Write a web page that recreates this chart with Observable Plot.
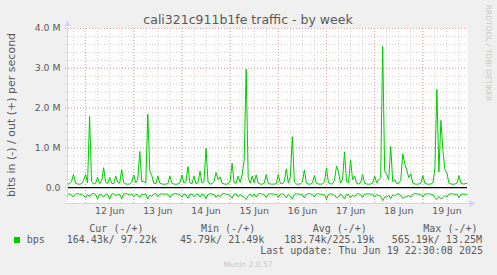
<!DOCTYPE html>
<html><head><meta charset="utf-8">
<script src="https://cdn.jsdelivr.net/npm/d3@7"></script>
<script src="https://cdn.jsdelivr.net/npm/@observablehq/plot@0.6"></script>
<style>
html,body{margin:0;padding:0;background:#f0f0f0;}
#chart{position:relative;width:497px;height:275px;background:#f0f0f0;overflow:hidden}
</style></head><body><div id="chart"></div>
<script>
// ---- data ----
const seriesStart = Date.UTC(2025, 5, 11, 15, 0); // first hourly sample
const domainStart = new Date(Date.UTC(2025, 5, 11, 15, 0));
const domainEnd = new Date(Date.UTC(2025, 5, 19, 22, 15));
// out (+) in kbit/s, hourly
const outValues = [
 90,95,150,330,110,90,85,100,180,330,
 120,1790,150,90,110,260,100,160,500,130,
 95,260,110,90,290,140,110,450,120,90,
 85,90,140,320,120,200,910,150,160,110,
 1840,420,300,110,95,290,110,90,85,90,
 95,290,110,90,85,90,120,320,110,150,
 530,120,95,290,100,120,410,110,160,990,
 140,90,95,150,380,200,270,110,90,85,
 95,170,610,120,110,290,130,320,690,2980,
 260,110,290,120,320,110,90,85,110,330,
 110,90,85,90,95,330,110,90,160,470,
 120,260,1280,140,90,85,95,140,440,110,
 90,85,120,300,110,90,85,90,150,490,
 120,95,90,180,540,400,110,200,900,150,
 120,700,200,290,110,90,120,330,110,90,
 85,90,110,290,120,200,250,3550,410,330,
 200,1030,150,200,100,110,180,850,600,440,
 250,350,110,90,85,90,110,300,110,90,
 85,90,120,470,2470,390,1690,930,450,370,
 110,90,85,90,110,300,110,90,95,110
];
// in (-) in kbit/s, hourly (magnitudes)
const inValues = [
 170,160,175,240,165,150,170,165,200,250,
 170,230,160,150,170,290,165,175,240,160,
 170,290,165,150,200,175,165,280,160,150,
 165,170,160,230,170,180,250,165,175,160,
 290,190,220,160,150,230,165,155,170,160,
 165,250,170,160,150,165,170,240,160,175,
 270,165,160,230,170,160,240,165,175,280,
 170,155,165,170,250,180,230,160,150,165,
 170,200,270,165,160,230,170,220,240,300,
 200,160,230,165,240,160,150,165,170,250,
 165,155,160,170,165,250,165,155,180,260,
 165,210,290,170,155,160,170,175,260,165,
 150,160,170,240,160,155,165,170,180,300,
 170,160,165,190,260,230,165,200,280,170,
 175,260,190,230,165,155,170,250,165,160,
 155,165,170,240,175,200,220,330,230,250,
 190,280,175,210,160,165,190,270,240,230,
 200,240,165,150,160,165,170,240,165,155,
 160,165,180,250,300,220,280,250,200,240,
 165,155,160,170,165,260,170,160,165,170
];
const dayLabels = ["12 Jun","13 Jun","14 Jun","15 Jun","16 Jun","17 Jun","18 Jun","19 Jun"];
const dayNoons = dayLabels.map((_, k) => new Date(Date.UTC(2025, 5, 12 + k, 12)));
const dayMidnights = dayLabels.map((_, k) => new Date(Date.UTC(2025, 5, 12 + k, 0)));
const yTicks = [0, 1000, 2000, 3000, 4000];
const yMajor = [1000, 2000, 3000, 4000];
const legendHeaders = ["Cur (-/+)", "Min (-/+)", "Avg (-/+)", "Max (-/+)"];
const legendValues = ["164.43k/ 97.22k", "45.79k/ 21.49k", "183.74k/225.19k", "565.19k/ 13.25M"];
const seriesName = "bps";
const titleText = "cali321c911b1fe traffic - by week";
const yLabelText = "bits in (-) / out (+) per second";
const lastUpdate = "Last update: Thu Jun 19 22:30:08 2025";
const watermark = "RRDTOOL / TOBI OETIKER";
const version = "Munin 2.0.57";

const data = outValues.map((v, i) => ({t: new Date(seriesStart + i * 3600e3), out: v, inn: inValues[i]}));

const GREEN = "#00cc00", AXIS = "#CFD6F8", FONT = "#5a5a5a";

const svg = Plot.plot({
  width: 497, height: 275,
  marginLeft: 67, marginRight: 30, marginTop: 28, marginBottom: 72,
  style: {background: "transparent", fontFamily: "DejaVu Sans", fontSize: "9.3px", color: FONT},
  x: {type: "utc", domain: [domainStart, domainEnd]},
  y: {domain: [-400, 4000]},
  marks: [
    Plot.frame({fill: "white", stroke: null}),
    Plot.gridY({interval: 200, stroke: "#cfcfcf", strokeOpacity: 1, strokeDasharray: "1,2", insetLeft: -2}),
    Plot.gridX({interval: d3.utcHour.every(6), stroke: "#cfcfcf", strokeOpacity: 1, strokeDasharray: "1,2"}),
    Plot.gridY(yMajor, {stroke: "#e8a0a0", strokeOpacity: 1, strokeDasharray: "1,2", insetLeft: -2}),
    Plot.gridX(dayMidnights, {stroke: "#e8a0a0", strokeOpacity: 1, strokeDasharray: "1,2", insetBottom: -2}),
    Plot.ruleY([0], {stroke: "black", strokeWidth: 1.3}),
    Plot.line(data, {x: "t", y: "out", stroke: GREEN, strokeWidth: 1}),
    Plot.line(data, {x: "t", y: d => -d.inn, stroke: GREEN, strokeWidth: 1}),
    Plot.ruleX([domainStart], {y1: -400, y2: 4000, stroke: AXIS, insetTop: -3}),
    Plot.ruleY([-400], {x1: domainStart, x2: domainEnd, stroke: AXIS, insetRight: -3}),
    Plot.dot([domainStart], {x: d => d, y: () => 4000, symbol: "triangle", r: 2.6, fill: AXIS, stroke: null, dy: -4}),
    Plot.dot([domainEnd], {x: d => d, y: () => -400, symbol: "triangle", r: 2.6, fill: AXIS, stroke: null, rotate: 90, dx: 4}),
    Plot.axisY(yTicks, {tickSize: 0, tickPadding: 7, label: null, fill: FONT,
      tickFormat: v => v === 0 ? "0.0" : (v / 1000).toFixed(1) + " M"}),
    Plot.axisX(dayNoons, {tickSize: 0, tickPadding: 4, label: null, fill: FONT,
      tickFormat: d => dayLabels[dayNoons.findIndex(n => +n === +d)]})
  ]
});

document.getElementById("chart").appendChild(svg);
svg.style.position = "absolute"; svg.style.left = "0"; svg.style.top = "0";

const s = d3.select(svg);
const txt = (x, y, str, o = {}) => s.append("text")
  .attr("x", x).attr("y", y).text(str)
  .attr("fill", o.fill || FONT)
  .attr("font-family", o.family || "DejaVu Sans")
  .attr("font-size", o.size || 10)
  .attr("text-anchor", o.anchor || "start")
  .attr("transform", o.transform || null)
  .style("white-space", "pre");

txt(248, 23.5, titleText, {size: 12.5, anchor: "middle"});
txt(0, 0, yLabelText, {size: 11, anchor: "middle", transform: "translate(15,115) rotate(-90)"});
txt(0, 0, watermark, {size: 7.5, anchor: "middle", fill: "#c8c8c8", transform: "translate(485.5,53) rotate(90)"});

const mono = "DejaVu Sans Mono";
const hx = [89.3, 201, 312.7, 423.3];
const vx = [66.7, 180, 284.3, 391.7];
legendHeaders.forEach((h, k) => txt(hx[k], 231.5, h, {family: mono}));
s.append("rect").attr("x", 14).attr("y", 237).attr("width", 6).attr("height", 6).attr("fill", GREEN);
txt(26.7, 243.3, seriesName, {family: mono});
legendValues.forEach((v, k) => txt(vx[k], 243.3, v, {family: mono}));
txt(483, 254.3, lastUpdate, {family: mono, anchor: "end"});
txt(248, 267, version, {size: 7.5, anchor: "middle", fill: "#c8c8c8"});
</script></body></html>
